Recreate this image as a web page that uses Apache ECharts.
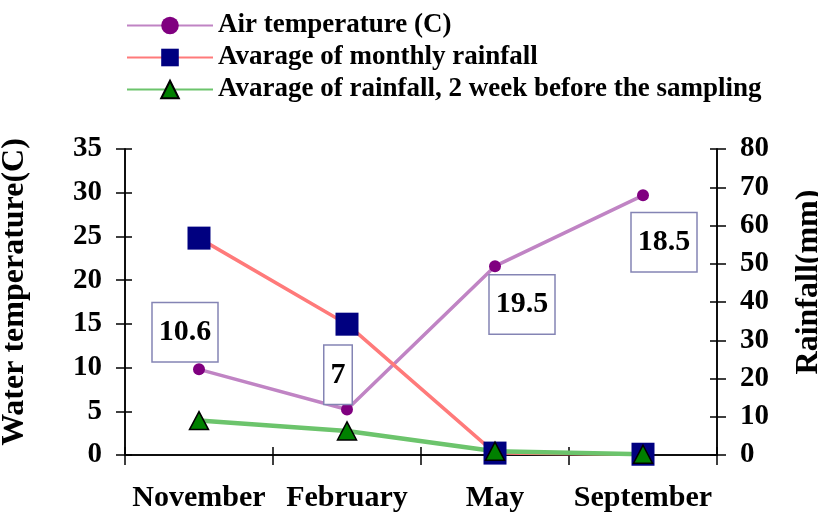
<!DOCTYPE html>
<html>
<head>
<meta charset="utf-8">
<style>
  html, body { margin: 0; padding: 0; background: #ffffff; }
  #chart { width: 818px; height: 517px; }
</style>
<script src="https://cdn.jsdelivr.net/npm/echarts@6/dist/echarts.min.js"></script>
</head>
<body>
<div id="chart"></div>
<script>
// Sampling months
const months = ['November', 'February', 'May', 'September'];
// Air temperature (C), left axis
const airTemp = [9.8, 5.2, 21.6, 29.7];
// Water temperature (C), shown as boxed notes
const waterTemp = [10.6, 7, 19.5, 18.5];
// Average monthly rainfall (mm), right axis
const monthlyRain = [56.7, 34.2, 0.5, 0.2];
// Average rainfall over the 2 weeks before sampling (mm), right axis
const twoWeekRain = [9.0, 6.3, 1.0, 0.2];
// Axis ranges
const tempAxis = { min: 0, max: 35, interval: 5 };
const rainAxis = { min: 0, max: 80, interval: 10 };

const FONT = '"Liberation Serif", "Times New Roman", serif';
const noteOffsets = [[-14, -30], [-9, -19], [27, 20], [21, -51]];

const chart = echarts.init(document.getElementById('chart'), null, { renderer: 'canvas' });

const baseY = (cfg, pos, inside, withLabels, name) => ({
  type: 'value',
  position: pos,
  min: cfg.min, max: cfg.max, interval: cfg.interval,
  name: name || '',
  nameLocation: 'middle',
  splitLine: { show: false },
  axisLine: { show: true, lineStyle: { color: '#000', width: 1.5 } },
  axisTick: { show: true, inside: inside, length: inside ? 7 : 9, lineStyle: { color: '#000', width: 1.5 } },
  axisLabel: {
    show: withLabels, color: '#000', fontFamily: FONT, fontWeight: 'bold', fontSize: 29,
    margin: 23
  }
});

const leftY = baseY(tempAxis, 'left', false, true, 'Water temperature(C)');
leftY.nameGap = 94;
leftY.nameRotate = 90;
leftY.nameTextStyle = { color: '#000', fontFamily: FONT, fontWeight: 'bold', fontSize: 32, padding: [0, 0, 0, 20] };

const rightY = baseY(rainAxis, 'right', false, true, 'Rainfall(mm)');
rightY.nameGap = 76;
rightY.nameRotate = 90;
rightY.nameTextStyle = { color: '#000', fontFamily: FONT, fontWeight: 'bold', fontSize: 32, padding: [0, 0, 0, 40] };

const baseX = (inside, withLabels) => ({
  type: 'category',
  data: months,
  position: 'bottom',
  boundaryGap: true,
  axisLine: { show: true, lineStyle: { color: '#000', width: 1.5 } },
  axisTick: { show: true, inside: inside, length: inside ? 8 : 10, interval: 0, lineStyle: { color: '#000', width: 1.5 } },
  axisLabel: {
    show: withLabels, interval: 0, color: '#000', fontFamily: FONT, fontWeight: 'bold', fontSize: 30,
    margin: 28
  },
  splitLine: { show: false }
});

const option = {
  backgroundColor: '#ffffff',
  animation: false,
  grid: { left: 125, right: 101, top: 149, bottom: 62, containLabel: false, outerBoundsMode: 'none' },
  legend: {
    orient: 'vertical',
    left: 126,
    top: 12,
    padding: 0,
    itemWidth: 86,
    itemHeight: 22,
    itemGap: 5,
    data: ['Air temperature (C)', 'Avarage of monthly rainfall', 'Avarage of rainfall, 2 week before the sampling'],
    textStyle: { color: '#000', fontFamily: FONT, fontWeight: 'bold', fontSize: 27, lineHeight: 24 }
  },
  xAxis: [baseX(false, true), baseX(true, false)],
  yAxis: [
    leftY,
    rightY,
    baseY(tempAxis, 'left', true, false),
    baseY(rainAxis, 'right', true, false)
  ],
  series: [
    {
      name: 'Air temperature (C)',
      type: 'line',
      xAxisIndex: 0, yAxisIndex: 0,
      data: airTemp,
      symbol: 'circle',
      symbolSize: 12,
      lineStyle: { color: '#c084c4', width: 3.5 },
      itemStyle: { color: '#800080' }
    },
    {
      name: 'Avarage of monthly rainfall',
      type: 'line',
      xAxisIndex: 0, yAxisIndex: 1,
      data: monthlyRain,
      symbol: 'rect',
      symbolSize: 23,
      lineStyle: { color: '#ff7a7a', width: 3.5 },
      itemStyle: { color: '#000080' }
    },
    {
      name: 'Avarage of rainfall, 2 week before the sampling',
      type: 'line',
      xAxisIndex: 0, yAxisIndex: 1,
      data: twoWeekRain,
      symbol: 'triangle',
      symbolSize: [19, 18],
      lineStyle: { color: '#6cc46c', width: 4.5 },
      itemStyle: { color: '#008000', borderColor: '#000', borderWidth: 1.5 }
    },
    {
      name: 'Water temperature (C)',
      type: 'line',
      xAxisIndex: 0, yAxisIndex: 0,
      data: waterTemp.map((v, i) => ({
        value: v,
        label: { offset: noteOffsets[i] }
      })),
      symbol: 'circle',
      symbolSize: 1,
      lineStyle: { width: 0, opacity: 0 },
      itemStyle: { color: 'transparent' },
      z: 5,
      label: {
        show: true,
        position: 'inside',
        color: '#000',
        fontFamily: FONT,
        fontWeight: 'bold',
        fontSize: 30,
        lineHeight: 30,
        padding: [14, 6, 14, 6],
        backgroundColor: '#ffffff',
        borderColor: '#8484b4',
        borderWidth: 1.5
      },
      emphasis: { disabled: true }
    }
  ]
};

chart.setOption(option);
</script>
</body>
</html>
